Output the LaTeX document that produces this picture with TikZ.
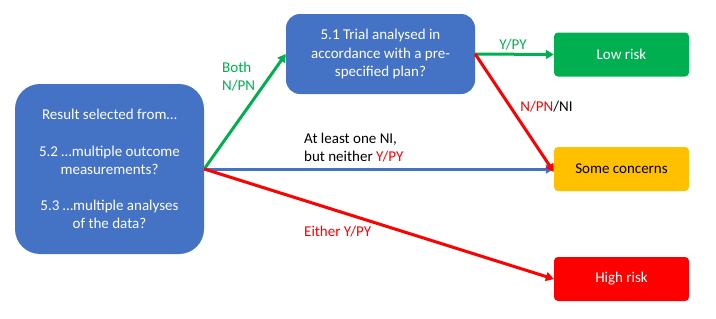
\documentclass[tikz,border=0pt]{standalone}
\usepackage{fontspec}
\setmainfont{Carlito}
\usetikzlibrary{arrows.meta}
\definecolor{boxblue}{HTML}{4472C4}
\definecolor{lowgreen}{HTML}{00B050}
\definecolor{someyellow}{HTML}{FFC000}
\definecolor{highred}{HTML}{FF0000}
\tikzset{
  qbox/.style={fill=boxblue, draw=none, text=white, align=center, font=\fontsize{15}{18.5}\selectfont},
  rbox/.style={draw=none, minimum width=135pt, minimum height=44pt, rounded corners=4pt, font=\fontsize{15}{18.5}\selectfont},
  lbl/.style={font=\fontsize{15}{18.5}\selectfont, inner sep=0pt},
  conn/.style={line width=3pt, -{Triangle[length=8pt,width=9pt]}},
}
\begin{document}
\begin{tikzpicture}[x=1pt,y=-1pt]
\useasboundingbox (0,0) rectangle (716,319);
\node[qbox, minimum width=189pt, minimum height=170pt, rounded corners=25pt] (L) at (109.5,169)
  {Result selected from…\\[18pt]5.2 …multiple outcome\\measurements?\\[17pt]5.3 …multiple analyses\\of the data?};
\node[qbox, minimum width=189pt, minimum height=80pt, rounded corners=14pt] (Q) at (380.5,54)
  {5.1 Trial analysed in\\accordance with a pre-\\specified plan?};
\node[rbox, fill=lowgreen, text=white] (Lo) at (621.5,54.5) {Low risk};
\node[rbox, fill=someyellow, text=black] (S) at (621.5,169) {Some concerns};
\node[rbox, fill=highred, text=white] (H) at (621.5,279) {High risk};
\draw[conn, lowgreen] (L.east) -- (Q.west);
\draw[conn, boxblue] (L.east) -- (S.west);
\draw[conn, highred] (L.east) -- (H.west);
\draw[conn, lowgreen] (Q.east) -- (Lo.west);
\draw[conn, highred] (Q.east) -- ([yshift=-3pt]S.west);
\node[lbl, anchor=west, align=left, text=lowgreen] (bn) at (222,76.5) {Both\\N/PN};
\node[lbl, text=lowgreen] (yp) at (513,45) {Y/PY};
\node[lbl] (nn) at (546.5,107) {\textcolor{highred}{N/PN}/NI};
\node[lbl, anchor=west, align=left] (al) at (304,147.5) {At least one NI,\\but neither \textcolor{highred}{Y/PY}};
\node[lbl, anchor=west, text=highred] (ey) at (304,232) {Either Y/PY};
\end{tikzpicture}
\end{document}
